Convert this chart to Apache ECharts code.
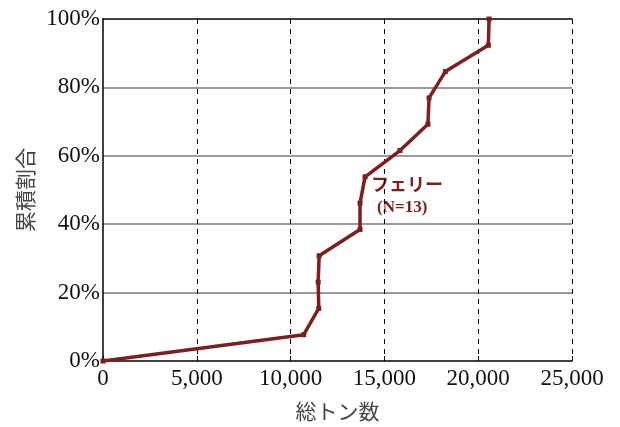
<!DOCTYPE html>
<html>
<head>
<meta charset="utf-8">
<script src="https://cdn.jsdelivr.net/npm/echarts@6/dist/echarts.min.js"></script>
<style>html,body{margin:0;padding:0;background:#fff}#c{width:620px;height:427px}</style>
</head>
<body>
<div id="c"></div>
<script>
var tonnage = [0, 10700, 11500, 11470, 11520, 13700, 13700, 13970, 15830, 17320, 17380, 18250, 20540, 20580];
var cumShare = [0, 7.69, 15.38, 23.08, 30.77, 38.46, 46.15, 53.85, 61.54, 69.23, 76.92, 84.62, 92.31, 100];
var seriesName = 'フェリー';
var seriesNote = '(N=13)';
var xName = '総トン数';
var yName = '累積割合';

var serif = '"Liberation Serif", "Times New Roman", serif';
var cjk = '"Noto Sans CJK JP", sans-serif';
var red = '#7b1f1f';

var chart = echarts.init(document.getElementById('c'));
chart.setOption({
  animation: false,
  grid: {left: 103, right: 48, top: 19, bottom: 66},
  xAxis: [{
    type: 'value', min: 0, max: 25000, interval: 5000,
    name: xName, nameLocation: 'middle', nameGap: 40,
    nameTextStyle: {fontFamily: cjk, fontSize: 21, color: '#444'},
    axisLine: {show: true, lineStyle: {color: '#000', width: 1.5}},
    axisTick: {show: true, inside: true, length: 5, lineStyle: {color: '#000'}},
    axisLabel: {fontFamily: serif, fontSize: 23, color: '#111', margin: 6,
      formatter: function (v) { return v.toLocaleString('en-US'); }},
    splitLine: {show: true, showMinLine: false, lineStyle: {color: '#000', type: [5, 5], width: 1}}
  }, {
    type: 'value', position: 'top', min: 0, max: 25000,
    axisLine: {show: true, lineStyle: {color: '#000', width: 1.5}},
    axisTick: {show: false}, axisLabel: {show: false}, splitLine: {show: false}
  }],
  yAxis: {
    type: 'value', min: 0, max: 100, interval: 20,
    name: yName, nameLocation: 'middle', nameGap: 66,
    nameTextStyle: {fontFamily: cjk, fontSize: 21, color: '#444'},
    axisLine: {show: true, lineStyle: {color: '#000', width: 1.5}},
    axisTick: {show: false},
    axisLabel: {fontFamily: serif, fontSize: 23, color: '#111', margin: 3,
      formatter: '{value}%'},
    splitLine: {show: true, showMinLine: false, showMaxLine: false, lineStyle: {color: '#7a7a7a', width: 1.5}}
  },
  series: [{
    type: 'line', name: seriesName,
    data: tonnage.map(function (t, i) { return [t, cumShare[i]]; }),
    lineStyle: {color: red, width: 3.5},
    itemStyle: {color: red},
    symbol: 'rect', symbolSize: 5, showSymbol: true
  }],
  graphic: [
    {type: 'text', left: 371, top: 175, style: {text: seriesName, fontFamily: cjk, fontWeight: 'bold', fontSize: 18, fill: red}},
    {type: 'text', left: 377, top: 199, style: {text: seriesNote, fontFamily: serif, fontWeight: 'bold', fontSize: 17, fill: red}}
  ]
});
</script>
</body>
</html>
